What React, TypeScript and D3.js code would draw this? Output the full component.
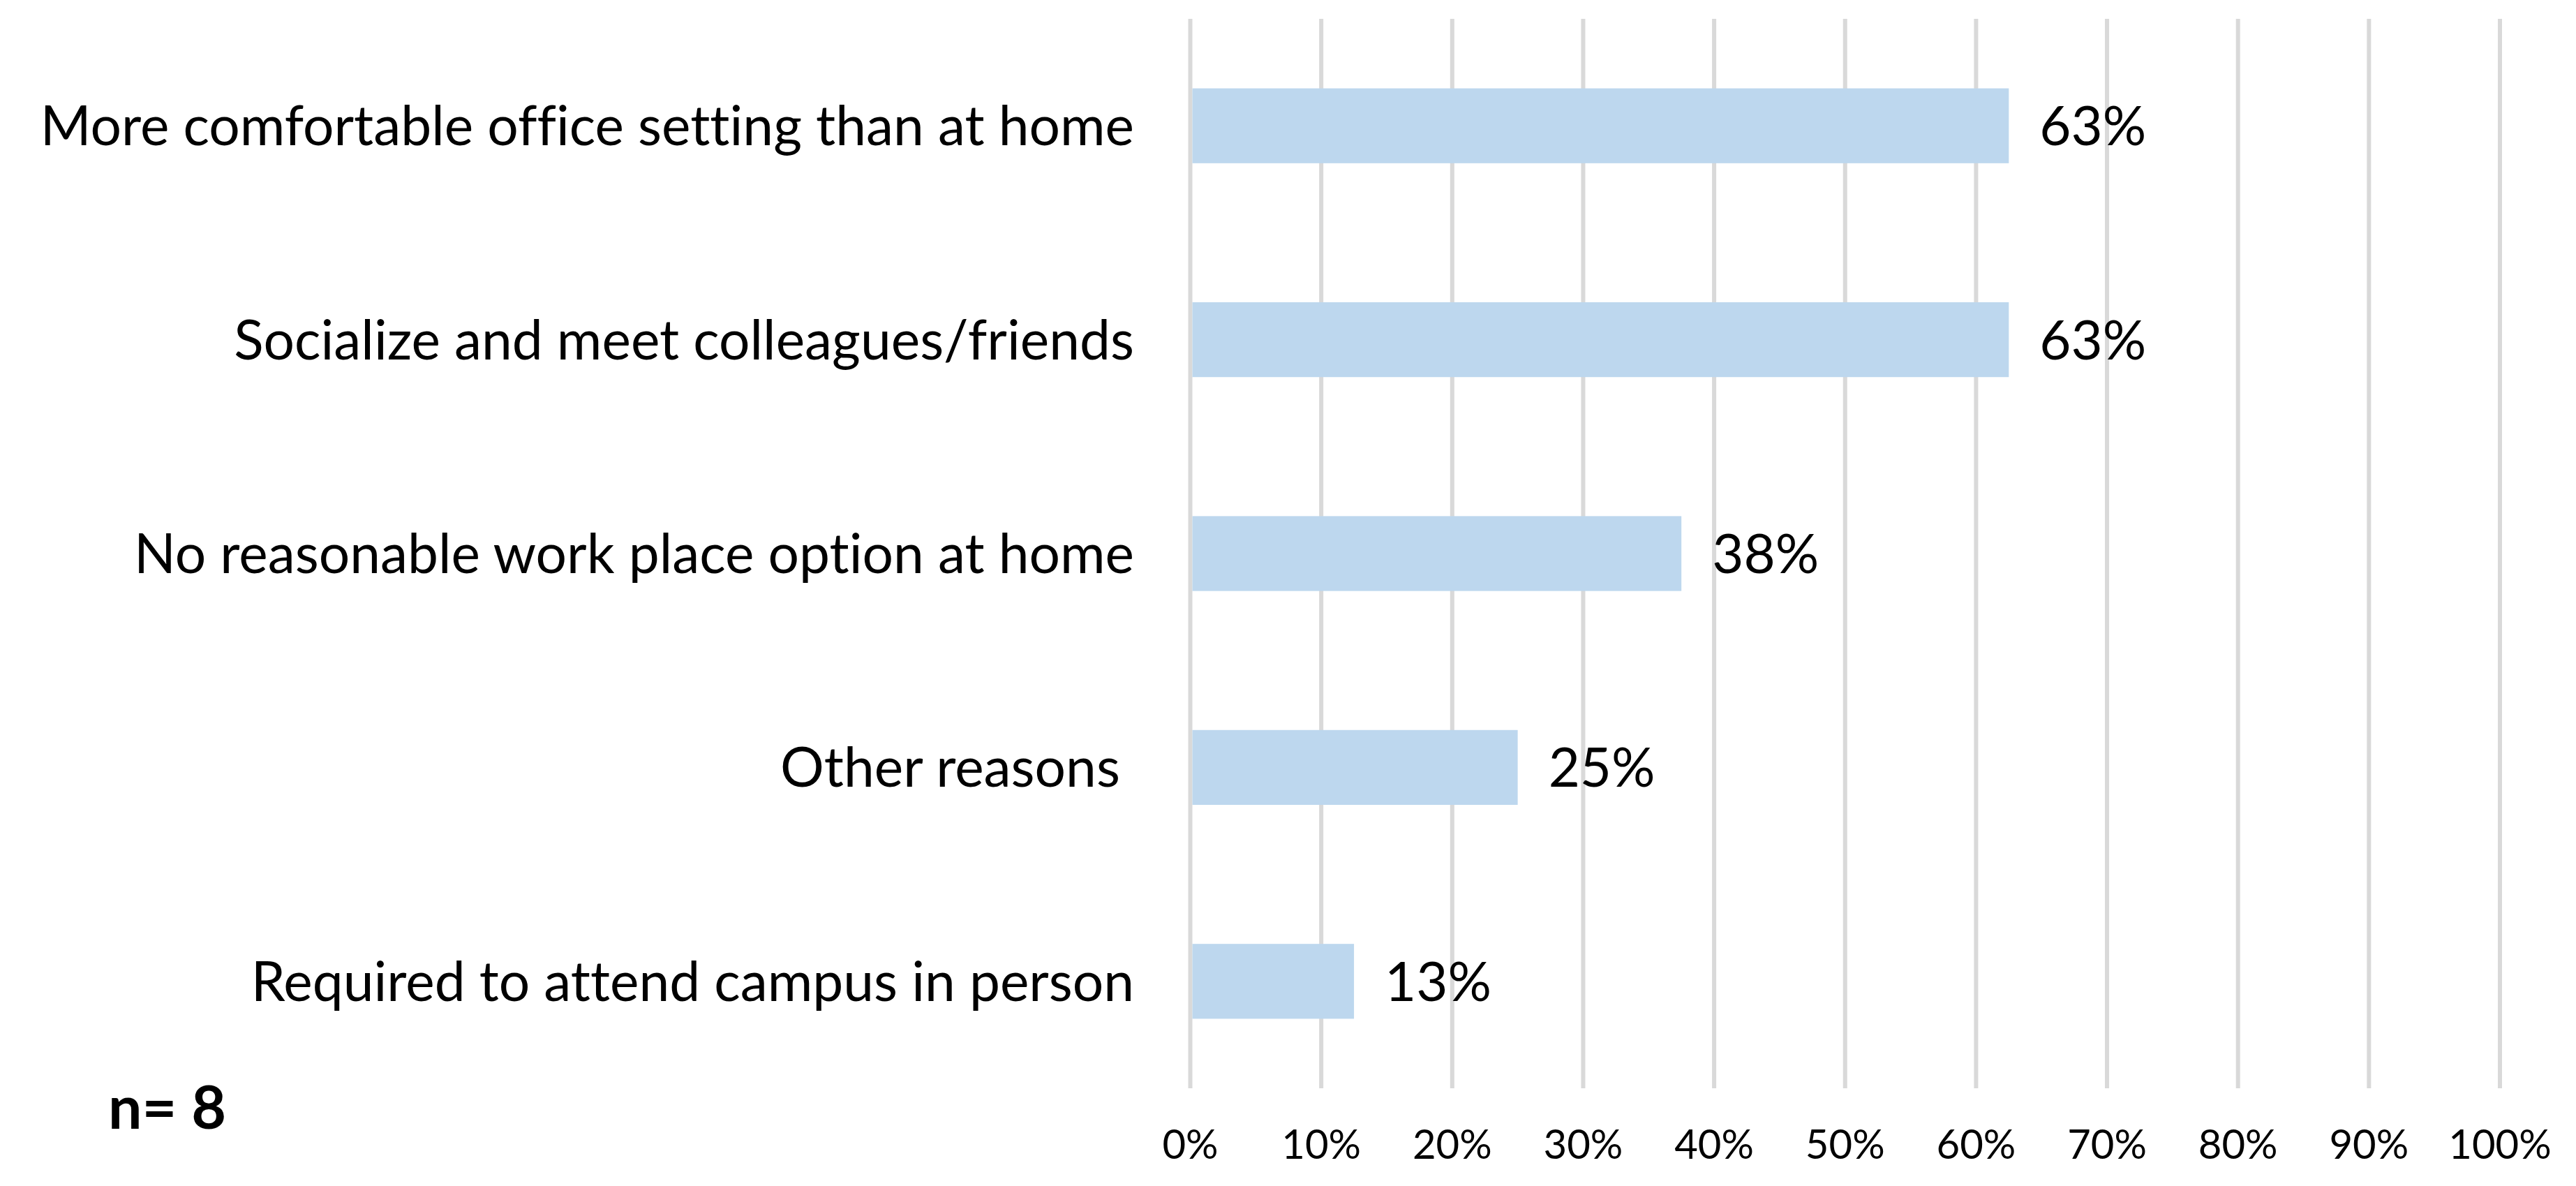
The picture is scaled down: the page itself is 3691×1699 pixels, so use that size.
import React from "react";
import * as d3 from "d3";

const categories = [
  "More comfortable office setting than at home",
  "Socialize and meet colleagues/friends",
  "No reasonable work place option at home",
  "Other reasons ",
  "Required to attend campus in person",
];
const values = [0.625, 0.625, 0.375, 0.25, 0.125];
const valueLabels = ["63%", "63%", "38%", "25%", "13%"];
const tickValues = [0, 0.1, 0.2, 0.3, 0.4, 0.5, 0.6, 0.7, 0.8, 0.9, 1.0];
const sampleNote = "n= 8";

const W = 3691;
const H = 1699;
const FONT = "Lato, 'Open Sans', sans-serif";
const noLig: React.CSSProperties = {
  fontVariantLigatures: "none",
  fontFeatureSettings: '"liga" 0, "clig" 0',
};

export default function App() {
  const x = d3.scaleLinear().domain([0, 1]).range([1705.5, 3582]);
  const y = d3
    .scaleBand<string>()
    .domain(categories)
    .range([27, 1559])
    .paddingInner(0.65)
    .paddingOuter(0.325);
  const fmt = d3.format(".0%");

  return (
    <svg
      width={W}
      height={H}
      style={{ position: "absolute", left: 0, top: 0, display: "block", background: "#fff" }}
    >
      <rect x={0} y={0} width={W} height={H} fill="#fff" />
      {tickValues.map((t) => (
        <line
          key={"g" + t}
          x1={x(t)}
          x2={x(t)}
          y1={27}
          y2={1559}
          stroke="#d9d9d9"
          strokeWidth={6}
        />
      ))}
      {categories.map((c, i) => (
        <rect
          key={"b" + i}
          x={x(0) + 3}
          y={y(c)}
          width={x(values[i]) - x(0) - 3}
          height={y.bandwidth()}
          fill="#bdd7ee"
        />
      ))}
      {categories.map((c, i) => (
        <text
          key={"v" + i}
          x={x(values[i]) + 44}
          y={(y(c) as number) + y.bandwidth() / 2 + 28}
          fontFamily={FONT}
          fontSize={78}
          fill="#000"
          style={noLig}
        >
          {valueLabels[i]}
        </text>
      ))}
      {categories.map((c, i) => (
        <text
          key={"c" + i}
          x={1625}
          y={(y(c) as number) + y.bandwidth() / 2 + 28}
          fontFamily={FONT}
          fontSize={78.5}
          fill="#000"
          textAnchor="end"
          style={{ ...noLig, whiteSpace: "pre" }}
        >
          {c}
        </text>
      ))}
      {tickValues.map((t) => (
        <text
          key={"t" + t}
          x={x(t)}
          y={1660}
          fontFamily={FONT}
          fontSize={58}
          fill="#000"
          textAnchor="middle"
          style={noLig}
        >
          {fmt(t)}
        </text>
      ))}
      <text
        x={155}
        y={1617}
        fontFamily={FONT}
        fontSize={86}
        fontWeight="bold"
        fill="#000"
        style={{ whiteSpace: "pre" }}
      >
        {sampleNote}
      </text>
    </svg>
  );
}
